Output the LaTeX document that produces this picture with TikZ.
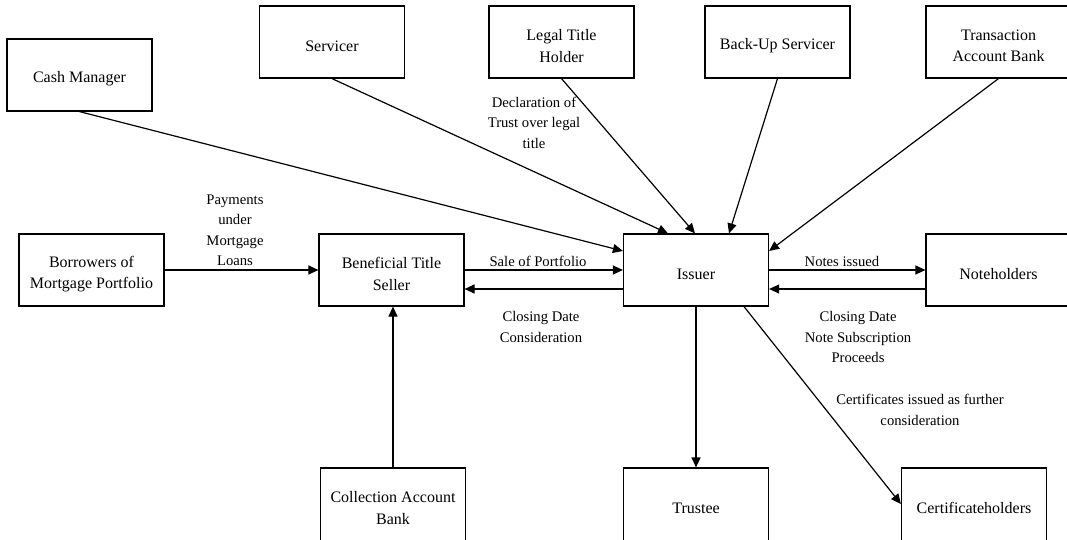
\documentclass[tikz,border=0pt]{standalone}
\usepackage{fontspec}
\setmainfont{Liberation Serif}
\usetikzlibrary{arrows.meta,calc}
\tikzset{
  box/.style={draw, line width=1.2pt, minimum width=145pt, minimum height=72pt, inner sep=0pt},
  lowbox/.style={box, minimum height=76pt},
  txt/.style={font=\fontsize{16}{21.5}\selectfont, align=center, inner sep=0pt},
  lbl/.style={font=\fontsize{14.67}{20.5}\selectfont, align=center, inner sep=0pt},
  conn/.style={line width=1.2pt, -{Triangle[length=10pt,width=9pt]}}
}
\begin{document}
\begin{tikzpicture}[x=1pt,y=-1pt]
\useasboundingbox (0,0) rectangle (1067,540);
% boxes
\node[box] (cm) at (79.5,75) {};
\node[box] (sv) at (332,42) {};
\node[box] (lt) at (561.5,42) {};
\node[box] (bu) at (777.5,42) {};
\node[box] (tab) at (998.5,42) {};
\node[box] (bor) at (91.5,270) {};
\node[box] (bts) at (391.5,270) {};
\node[box] (iss) at (696,270) {};
\node[box] (nh) at (998.5,270) {};
\node[lowbox] (cab) at (393,506) {};
\node[lowbox] (tr) at (696,506) {};
\node[lowbox] (cert) at (974,506) {};
% box texts
\node[txt] (cmt) at ([yshift=-4pt]cm.center) {Cash Manager};
\node[txt] (svt) at ([yshift=-4pt]sv.center) {Servicer};
\node[txt] (ltt) at ([yshift=-4pt]lt.center) {Legal Title\\Holder};
\node[txt] (but) at ([yshift=-4pt]bu.center) {Back-Up Servicer};
\node[txt] (tabt) at ([yshift=-4pt]tab.center) {Transaction\\Account Bank};
\node[txt] (bort) at ([yshift=-4pt]bor.center) {Borrowers of\\Mortgage Portfolio};
\node[txt] (btst) at ([yshift=-4pt]bts.center) {Beneficial Title\\Seller};
\node[txt] (isst) at ([yshift=-4pt]iss.center) {Issuer};
\node[txt] (nht) at ([yshift=-4pt]nh.center) {Noteholders};
\node[txt] (cabt) at ([yshift=-2pt]cab.center) {Collection Account\\Bank};
\node[txt] (trt) at ([yshift=-2pt]tr.center) {Trustee};
\node[txt] (certt) at ([yshift=-2pt]cert.center) {Certificateholders};
% connectors
\draw[conn] (cm.south) -- ([yshift=19pt]iss.west);
\draw[conn] (sv.south) -- ([xshift=-28pt]iss.north);
\draw[conn] (lt.south) -- ([xshift=-1pt]iss.north);
\draw[conn] (bu.south) -- ([xshift=33pt]iss.north);
\draw[conn] (tab.south) -- ([yshift=19pt]iss.east);
\draw[conn] (bor.east) -- (bts.west);
\draw[conn] (bts.east) -- (iss.west);
\draw[conn] ([yshift=-19pt]iss.west) -- ([yshift=-19pt]bts.east);
\draw[conn] (iss.east) -- (nh.west);
\draw[conn] ([yshift=-19pt]nh.west) -- ([yshift=-19pt]iss.east);
\draw[conn] (iss.south) -- (tr.north);
\draw[conn] ([xshift=48pt]iss.south) -- ([yshift=2pt]cert.west);
\draw[conn] (cab.north) -- (cab.north |- bts.south);
% labels
\node[lbl] (l1) at (235,230.5) {Payments\\under\\Mortgage\\Loans};
\node[lbl] (l2) at (538,261) {Sale of Portfolio};
\node[lbl] (l3) at (541,327) {Closing Date\\Consideration};
\node[lbl] (l4) at (842,261) {Notes issued};
\node[lbl] (l5) at (858,337) {Closing Date\\Note Subscription\\Proceeds};
\node[lbl] (l6) at (920,410) {Certificates issued as further\\consideration};
\node[lbl] (l7) at (534,122.5) {Declaration of\\Trust over legal\\title};
\end{tikzpicture}
\end{document}
